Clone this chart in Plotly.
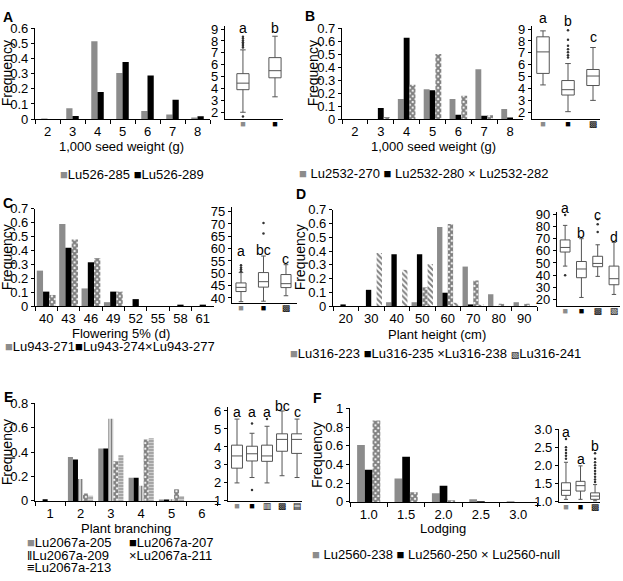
import plotly.graph_objects as go

W, H = 623, 581
FONT = "Arial, Liberation Sans, sans-serif"
GRAY = "#8c8c8c"
BLACK = "#000000"
EDGE = "#555555"

# ---- A: 1,000 seed weight (Lu526) ----
a_bins = ["2", "3", "4", "5", "6", "7", "8"]
a_lines = ["Lu526-285", "Lu526-289"]
a_285 = [0.004, 0.072, 0.515, 0.305, 0.053, 0.03, 0.01]
a_289 = [0.0, 0.02, 0.18, 0.378, 0.288, 0.128, 0.018]
a_q1 = [3.9, 4.9]
a_med = [4.45, 5.5]
a_q3 = [5.25, 6.6]
a_lo = [2.0, 3.3]
a_hi = [7.25, 8.4]
a_out = [[7.45, 7.6, 7.75, 7.9, 8.05, 8.2, 8.35, 1.65], []]
a_sig = ["a", "b"]
a_sig_y = [9.1, 9.1]

# ---- B: 1,000 seed weight (Lu2532) ----
b_bins = ["2", "3", "4", "5", "6", "7", "8"]
b_lines = ["Lu2532-270", "Lu2532-280", "Lu2532-282"]
b_270 = [0.0, 0.0, 0.155, 0.23, 0.155, 0.385, 0.078]
b_280 = [0.0, 0.085, 0.628, 0.223, 0.033, 0.025, 0.005]
b_282 = [0.0, 0.015, 0.265, 0.503, 0.18, 0.03, 0.0]
b_q1 = [5.27, 3.45, 4.25]
b_med = [7.08, 3.9, 5.05]
b_q3 = [8.35, 4.67, 5.6]
b_lo = [4.3, 2.05, 3.0]
b_hi = [8.85, 6.1, 7.45]
b_out = [[], [6.6, 6.8, 7.05, 7.3, 7.6, 8.1, 8.9], []]
b_sig = ["a", "b", "c"]
b_sig_y = [9.95, 9.7, 8.35]

# ---- C: Flowering 5% (Lu943) ----
c_bins = ["40", "43", "46", "49", "52", "55", "58", "61"]
c_lines = ["Lu943-271", "Lu943-274", "Lu943-277"]
c_271 = [0.255, 0.59, 0.127, 0.028, 0.0, 0.0, 0.0, 0.0]
c_274 = [0.104, 0.42, 0.315, 0.104, 0.05, 0.0, 0.006, 0.008]
c_277 = [0.08, 0.478, 0.345, 0.104, 0.0, 0.0, 0.0, 0.0]
c_q1 = [42.6, 44.4, 44.2]
c_med = [44.3, 46.6, 45.8]
c_q3 = [46.1, 50.3, 49.5]
c_lo = [38.5, 38.7, 40.9]
c_hi = [50.3, 57.0, 53.5]
c_out = [[50.8, 51.6, 52.4, 53.3], [66.1, 70.4], []]
c_sig = ["a", "bc", "c"]
c_sig_y = [59.0, 59.4, 56.0]

# ---- D: Plant height (Lu316) ----
d_bins = ["20", "30", "40", "50", "60", "70", "80", "90"]
d_lines = ["Lu316-223", "Lu316-235", "Lu316-238", "Lu316-241"]
d_223 = [0.0, 0.0, 0.028, 0.028, 0.575, 0.287, 0.086, 0.028]
d_235 = [0.012, 0.118, 0.376, 0.376, 0.097, 0.012, 0.0, 0.0]
d_238 = [0.0, 0.0, 0.0, 0.136, 0.597, 0.186, 0.017, 0.017]
d_241 = [0.0, 0.386, 0.263, 0.305, 0.024, 0.009, 0.0, 0.0]
d_q1 = [59.0, 37.8, 46.9, 32.0]
d_med = [62.8, 45.0, 49.6, 37.0]
d_q3 = [69.0, 51.2, 55.5, 47.4]
d_lo = [47.4, 21.5, 38.9, 24.0]
d_hi = [81.0, 70.0, 65.0, 67.0]
d_out = [[89.5, 39.8], [], [75.5, 82.0, 86.0], []]
d_sig = ["a", "b", "c", "d"]
d_sig_y = [95.0, 75.0, 89.4, 71.7]

# ---- E: Plant branching (Lu2067a) ----
e_bins = ["1", "2", "3", "4", "5", "6"]
e_lines = ["Lu2067a-205", "Lu2067a-207", "Lu2067a-209", "Lu2067a-211", "Lu2067a-213"]
e_205 = [0.0, 0.36, 0.43, 0.19, 0.012, 0.0]
e_207 = [0.013, 0.34, 0.43, 0.19, 0.008, 0.0]
e_209 = [0.0, 0.18, 0.675, 0.125, 0.013, 0.0]
e_211 = [0.0, 0.06, 0.325, 0.505, 0.095, 0.0]
e_213 = [0.0, 0.043, 0.375, 0.515, 0.04, 0.0]
e_q1 = [2.82, 3.22, 3.2, 3.76, 3.64]
e_med = [3.5, 3.62, 3.5, 4.42, 4.42]
e_q3 = [4.1, 4.04, 4.1, 4.73, 4.73]
e_lo = [2.0, 2.3, 2.0, 2.4, 2.3]
e_hi = [5.55, 4.76, 5.15, 6.0, 5.55]
e_out = [[], [5.3, 1.6], [5.55], [], []]
e_sig = ["a", "a", "a", "bc", "c"]
e_sig_y = [5.95, 5.95, 5.95, 6.3, 5.95]

# ---- F: Lodging (Lu2560) ----
f_bins = ["1.0", "1.5", "2.0", "2.5", "3.0"]
f_lines = ["Lu2560-238", "Lu2560-250", "Lu2560-null"]
f_238 = [0.61, 0.25, 0.093, 0.028, 0.003]
f_250 = [0.345, 0.483, 0.172, 0.003, 0.0]
f_null = [0.87, 0.103, 0.017, 0.0, 0.0]
f_q1 = [1.18, 1.3, 1.07]
f_med = [1.32, 1.45, 1.16]
f_q3 = [1.53, 1.57, 1.25]
f_lo = [1.07, 1.07, 1.03]
f_hi = [2.1, 2.0, 1.48]
f_out = [[2.2, 2.28, 2.36, 2.44, 2.52, 2.75], [],
         [1.55, 1.62, 1.7, 1.78, 1.86, 1.94, 2.02, 2.1, 2.2, 2.35]]
f_sig = ["a", "a", "b"]
f_sig_y = [2.93, 2.2, 2.55]

STYLE = {
    "gray": dict(color=GRAY),
    "black": dict(color=BLACK),
    "check": dict(color="white", pattern=dict(shape="x", fgcolor=BLACK, bgcolor="white", size=4, solidity=0.75)),
    "diag": dict(color="white", pattern=dict(shape="\\", fgcolor=BLACK, bgcolor="white", size=4, solidity=0.5)),
    "vert": dict(color="white", pattern=dict(shape="|", fgcolor=BLACK, bgcolor="white", size=3, solidity=0.6)),
    "horiz": dict(color="white", pattern=dict(shape="-", fgcolor=BLACK, bgcolor="white", size=3, solidity=0.6)),
}


def glyph(ch):
    return f"<span style='font-family:DejaVu Sans'>{ch}</span>"


GSQ = f"<span style='color:{GRAY}'>■</span>"
TICK_SYM = {"gray": GSQ, "black": "■", "check": glyph("▩"), "diag": glyph("▧"),
            "vert": glyph("▥"), "horiz": glyph("▤")}
KEY_SYM = {"gray": GSQ, "black": "■", "check": "×",
           "diag": "<span style='font-family:DejaVu Sans;font-size:9px'>▧</span>",
           "vert": "‖", "horiz": "≡"}

AXIS = dict(showline=True, linecolor="black", linewidth=1.2, showgrid=False, zeroline=False,
            tickcolor="black", tickwidth=1.2, tickfont=dict(size=13, color="black"), fixedrange=True)

fig = go.Figure()
layout = {}
notes = []


def sfx(n):
    return "" if n == 1 else str(n)


def xdom(x0, x1):
    return [x0 / W, x1 / W]


def ydom(top, bot):
    return [1 - bot / H, 1 - top / H]


def note(x, y, text, size=13, xanchor="center", **kw):
    notes.append(dict(x=x / W, y=1 - y / H, xref="paper", yref="paper", text=text, showarrow=False,
                      xanchor=xanchor, yanchor="middle", font=dict(size=size, color="black"), **kw))


def bar_panel(n, cats, series, styles, xs, ys, ymax, dtick, group):
    k = len(series)
    w = group / k
    for i, (vals, st) in enumerate(zip(series, styles)):
        fig.add_trace(go.Bar(
            x=cats, y=vals, width=w, offset=-group / 2 + i * w,
            marker=dict(**STYLE[st], line=dict(width=0)),
            xaxis="x" + sfx(n), yaxis="y" + sfx(n), showlegend=False,
        ))
    layout["xaxis" + sfx(n)] = dict(domain=xdom(*xs), anchor="y" + sfx(n), type="category",
                                    range=[-0.5, len(cats) - 0.5], ticks="outside", tickangle=0,
                                    tickson="boundaries", ticklen=4, **AXIS)
    layout["yaxis" + sfx(n)] = dict(domain=ydom(*ys), anchor="x" + sfx(n), range=[0, ymax * 1.001],
                                    tick0=0, dtick=dtick, ticks="outside", ticklen=3, **AXIS)


def box_panel(n, lines, styles, q1, med, q3, lo, hi, out, sig, sig_y, xs, ys, yrange, dtick,
              xrange, bw, fmt=""):
    xa, ya = "x" + sfx(n), "y" + sfx(n)
    fig.add_trace(go.Box(
        x=lines, q1=q1, median=med, q3=q3, lowerfence=lo, upperfence=hi,
        width=bw, whiskerwidth=0.45, fillcolor="white", line=dict(color=EDGE, width=1),
        boxpoints=False, xaxis=xa, yaxis=ya, showlegend=False,
    ))
    ox = [ln for ln, o in zip(lines, out) for _ in o]
    oy = [v for o in out for v in o]
    fig.add_trace(go.Scatter(x=ox, y=oy, mode="markers", marker=dict(size=2.5, color="#333333"),
                             xaxis=xa, yaxis=ya, showlegend=False))
    # significance letters may sit above the axis range, so place them in paper units
    d0, d1 = ydom(*ys)
    for ln, s, v in zip(lines, sig, sig_y):
        py = d0 + (v - yrange[0]) / (yrange[1] - yrange[0]) * (d1 - d0)
        notes.append(dict(x=ln, y=py, xref=xa, yref="paper", text=s, showarrow=False,
                          xanchor="center", yanchor="middle", font=dict(size=14, color="black")))
    layout["xaxis" + sfx(n)] = dict(domain=xdom(*xs), anchor=ya, type="category", range=xrange,
                                    tickvals=lines, ticktext=[TICK_SYM[s] for s in styles],
                                    ticks="", tickangle=0, ticklabelstandoff=-4,
                                    **{**AXIS, "tickfont": dict(size=9, color="black")})
    layout["yaxis" + sfx(n)] = dict(domain=ydom(*ys), anchor=xa, range=yrange, tick0=0, dtick=dtick,
                                    ticks="outside", ticklen=3, tickformat=fmt, **AXIS)


def legend_row(x, y, lines, styles, sep=" ", gap=""):
    text = sep.join(KEY_SYM[s] + gap + ln for ln, s in zip(lines, styles))
    note(x, y, text, xanchor="left")


# panel A
a_st = ["gray", "black"]
bar_panel(1, a_bins, [a_285, a_289], a_st, (35, 210), (22, 115), 0.6, 0.1, 0.5)
box_panel(7, a_lines, a_st, a_q1, a_med, a_q3, a_lo, a_hi, a_out, a_sig, a_sig_y,
          (225, 283), (20, 115), [1.43, 9.22], 1, [-0.56, 1.25], 0.38)
# panel B
b_st = ["gray", "black", "check"]
bar_panel(2, b_bins, [b_270, b_280, b_282], b_st, (342, 523), (22, 115), 0.7, 0.1, 0.68)
box_panel(8, b_lines, b_st, b_q1, b_med, b_q3, b_lo, b_hi, b_out, b_sig, b_sig_y,
          (532, 600), (20, 115), [1.43, 9.22], 1, [-0.44, 2.28], 0.5)
# panel C
c_st = ["gray", "black", "check"]
bar_panel(3, c_bins, [c_271, c_274, c_277], c_st, (35, 214), (207, 307), 0.7, 0.1, 0.84)
box_panel(9, c_lines, c_st, c_q1, c_med, c_q3, c_lo, c_hi, c_out, c_sig, c_sig_y,
          (232, 297), (205, 304), [37.9, 77], 5, [-0.4, 2.49], 0.45)
# panel D
d_st = ["gray", "black", "check", "diag"]
bar_panel(4, d_bins, [d_223, d_235, d_238, d_241], d_st, (333, 537), (208, 307), 0.7, 0.1, 0.84)
box_panel(10, d_lines, d_st, d_q1, d_med, d_q3, d_lo, d_hi, d_out, d_sig, d_sig_y,
          (557, 620), (210, 307), [14.4, 92.4], 10, [-0.5, 3.37], 0.6)
# panel E
e_st = ["gray", "black", "vert", "check", "horiz"]
bar_panel(5, e_bins, [e_205, e_207, e_209, e_211, e_213], e_st, (35, 217), (407, 507), 0.8, 0.2, 0.83)
box_panel(11, e_lines, e_st, e_q1, e_med, e_q3, e_lo, e_hi, e_out, e_sig, e_sig_y,
          (228, 302), (411, 507), [0.999, 6.2], 1, [-0.6, 4.33], 0.73)
# panel F
f_st = ["gray", "black", "check"]
bar_panel(6, f_bins, [f_238, f_250, f_null], f_st, (350, 537), (412, 508), 1.0, 0.2, 0.62)
box_panel(12, f_lines, f_st, f_q1, f_med, f_q3, f_lo, f_hi, f_out, f_sig, f_sig_y,
          (559, 600), (433, 508), [0.999, 3.03], 0.5, [-0.48, 2.34], 0.62, fmt=".1f")

# axis titles
for x, y in [(7, 68), (313, 68), (7, 257), (300, 257), (7, 457), (317, 460)]:
    note(x, y, "Frequency", size=14, textangle=-90)
note(122, 143, "1,000 seed weight (g)")
note(433, 143, "1,000 seed weight (g)")
note(121, 335, "Flowering 5% (d)")
note(437, 336, "Plant height (cm)")
note(126, 535, "Plant branching")
note(443, 535, "Lodging")

# legends
legend_row(58, 172, a_lines, a_st)
legend_row(297, 171, b_lines, b_st, gap=" ")
legend_row(3, 348, c_lines, c_st, sep="")
legend_row(288, 356, d_lines, d_st)
legend_row(25, 550, [e_lines[0]], [e_st[0]])
legend_row(25, 563, [e_lines[2]], [e_st[2]])
legend_row(25, 575, [e_lines[4]], [e_st[4]])
legend_row(127, 550, [e_lines[1]], [e_st[1]])
legend_row(127, 563, [e_lines[3]], [e_st[3]])
legend_row(310, 562, f_lines, f_st, gap=" ")

# panel letters
for lab, x, y in [("A", 8, 10), ("B", 310, 9), ("C", 8, 201), ("D", 301, 192), ("E", 8, 400), ("F", 317, 401)]:
    note(x, y, f"<b>{lab}</b>", size=14)

fig.update_layout(
    **layout,
    annotations=notes,
    width=W, height=H,
    margin=dict(l=0, r=0, t=0, b=0),
    paper_bgcolor="white", plot_bgcolor="white",
    font=dict(family=FONT, size=13, color="black"),
    showlegend=False,
)
fig.write_html("out.html", config={"displayModeBar": False},
               post_script="document.body.style.margin='0px';")
